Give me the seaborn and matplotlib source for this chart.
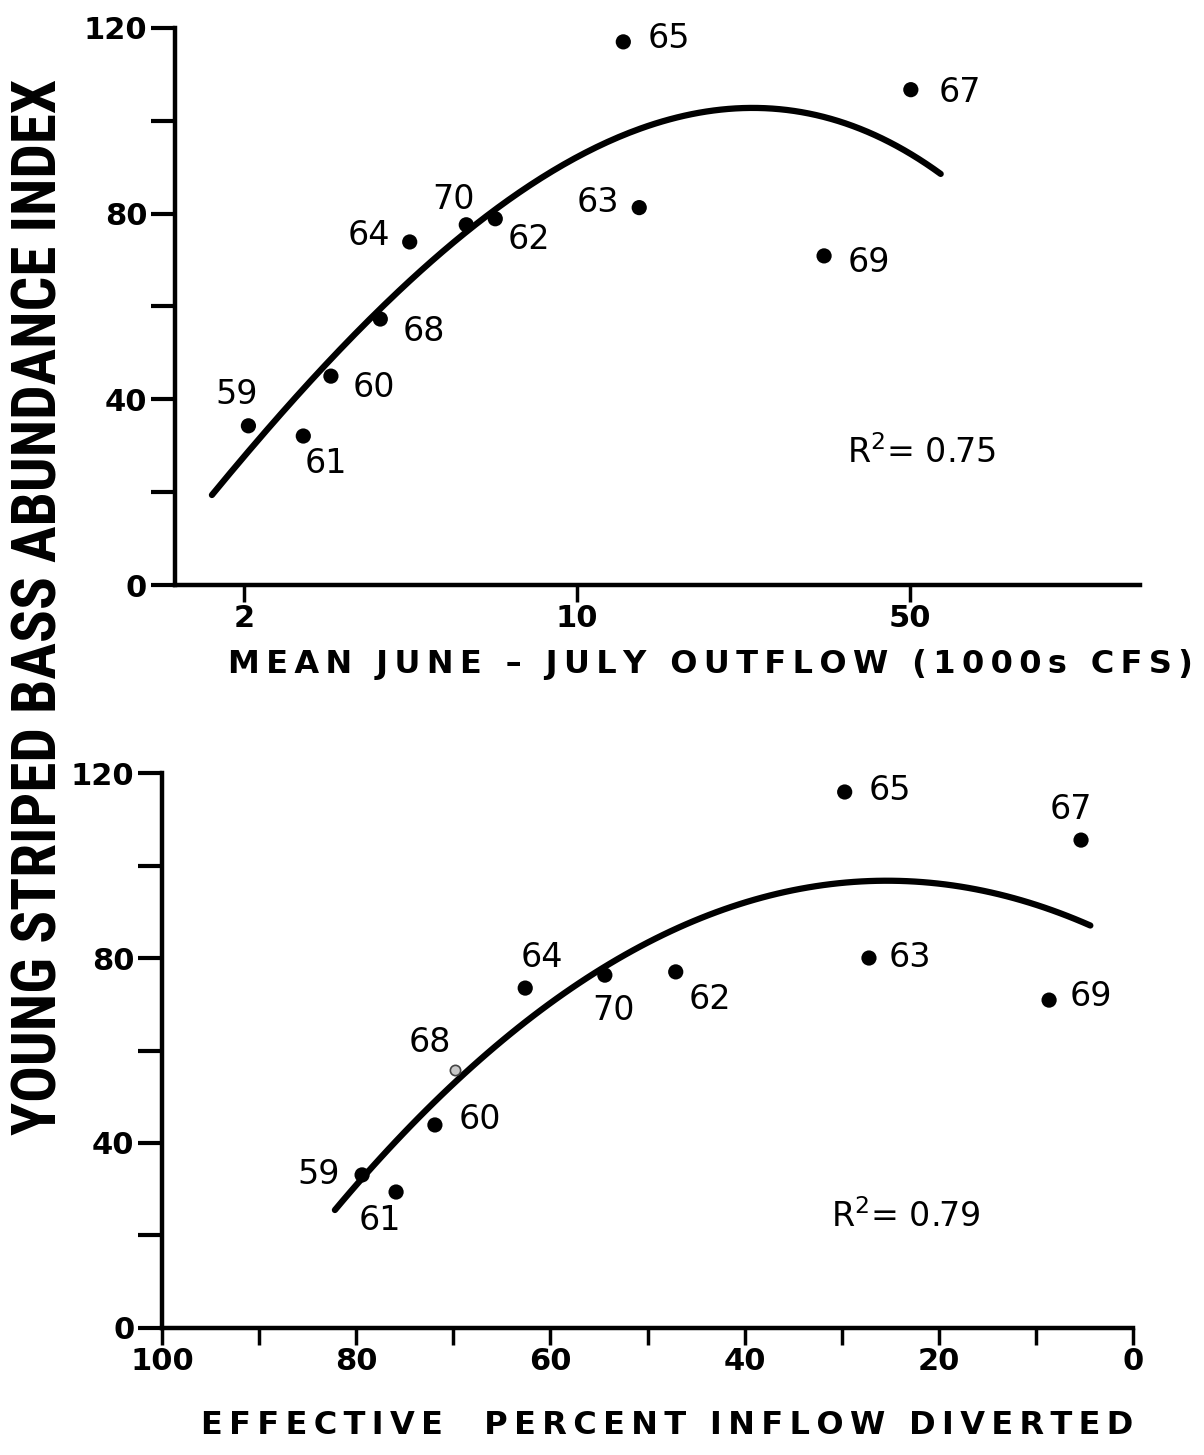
import numpy as np
import pandas as pd
import matplotlib
matplotlib.use("Agg")
import matplotlib.pyplot as plt
import seaborn as sns

# --- data ---
years = ["59", "60", "61", "62", "63", "64", "65", "67", "68", "69", "70"]

# top panel: mean June-July outflow (1000s cfs) vs abundance index
outflow = [2.04, 3.04, 2.66, 6.73, 13.5, 4.45, 12.5, 50.2, 3.86, 33.0, 5.85]
index_top = [34.3, 45.0, 32.1, 78.9, 81.3, 73.9, 117.0, 106.7, 57.3, 70.9, 77.6]

# bottom panel: effective percent inflow diverted vs abundance index
diverted = [79.4, 71.9, 75.9, 47.1, 27.2, 62.6, 29.7, 5.36, 69.8, 8.65, 54.4]
index_bot = [33.1, 43.9, 29.4, 77.0, 80.0, 73.5, 115.9, 105.5, 55.8, 70.9, 76.3]

# fitted curves, points
curve_top_x = [1.71, 2.15, 3.01, 4.22, 5.9, 8.28, 12.4, 18.3, 24.4, 34.1, 45.6, 58.0]
curve_top_y = [20.5, 31.3, 46.3, 62.5, 76.9, 89.4, 97.6, 101.0, 101.6, 100.0, 95.5, 89.0]
curve_bot_x = [82.2, 75.5, 67.3, 59.0, 50.8, 42.5, 34.3, 26.1, 17.8, 9.6, 4.4]
curve_bot_y = [26.6, 40.6, 57.9, 70.9, 81.7, 90.4, 95.8, 97.3, 95.8, 91.5, 86.1]

r2_top = "0.75"
r2_bot = "0.79"

# label offsets in pixels (dx, dy)
off_top = {"59": (-12, 31), "60": (43, -11), "61": (23, -27), "62": (34, -21),
           "63": (-41, 5), "64": (-41, 6), "65": (46, 3), "67": (49, -3),
           "68": (44, -12), "69": (45, -7), "70": (-13, 25)}
off_bot = {"59": (-43, 0), "60": (45, 5), "61": (-16, -28), "62": (34, -28),
           "63": (41, 1), "64": (17, 31), "65": (45, 2), "67": (-10, 31),
           "68": (-25, 27), "69": (42, 4), "70": (9, -35)}

sns.set_theme(style="white")
plt.rcParams["font.family"] = ["DejaVu Sans"]
plt.rcParams["mathtext.fontset"] = "dejavusans"
plt.rcParams["text.color"] = "black"
plt.rcParams["xtick.color"] = "black"
plt.rcParams["ytick.color"] = "black"


def spaced(s):
    return "\u2009".join(s)


fig = plt.figure(figsize=(12.04, 14.55), dpi=100)
ax1 = fig.add_axes([0.1453, 0.5979, 0.8015, 0.3829])
ax2 = fig.add_axes([0.1346, 0.0873, 0.8065, 0.3814])

df_top = pd.DataFrame({"year": years, "x": outflow, "y": index_top})
df_bot = pd.DataFrame({"year": years, "x": diverted, "y": index_bot})

# top panel
ax1.set_xscale("log")
sns.scatterplot(data=df_top, x="x", y="y", ax=ax1, color="black", s=120,
                edgecolor="none", zorder=3)
coef = np.polyfit(np.log10(curve_top_x), curve_top_y, 3)
xs = np.geomspace(min(curve_top_x), max(curve_top_x), 200)
sns.lineplot(x=xs, y=np.polyval(coef, np.log10(xs)), ax=ax1, color="black",
             lw=4.5, solid_capstyle="round")
ax1.set_xlim(1.43, 152)
ax1.set_ylim(0, 120)
ax1.set_xticks([2, 10, 50])
ax1.set_xticklabels(["2", "10", "50"])
ax1.xaxis.set_minor_locator(matplotlib.ticker.NullLocator())
for _, r in df_top.iterrows():
    ax1.annotate(r["year"], (r["x"], r["y"]), xytext=off_top[r["year"]],
                 textcoords="offset pixels", ha="center", va="center",
                 fontsize=24, color="black")
ax1.text(0.774, 0.237, r"R$^{2}$= " + r2_top, transform=ax1.transAxes,
         ha="center", va="center", fontsize=24, color="black")

# bottom panel
sns.regplot(x=curve_bot_x, y=curve_bot_y, order=2, ci=None, scatter=False,
            truncate=True, ax=ax2, color="black", line_kws={"lw": 4.5})
main = df_bot[df_bot["year"] != "68"]
sns.scatterplot(data=main, x="x", y="y", ax=ax2, color="black", s=120,
                edgecolor="none", zorder=3)
odd = df_bot[df_bot["year"] == "68"]
ax2.scatter(odd["x"], odd["y"], s=55, facecolor="#c8c8c8", edgecolor="#444444",
            lw=1.2, zorder=3)
ax2.set_xlim(100, 0)
ax2.set_ylim(0, 120)
ax2.set_xticks(np.arange(0, 101, 10))
ax2.set_xticklabels([str(v) if v % 20 == 0 else "" for v in range(0, 101, 10)])
for _, r in df_bot.iterrows():
    ax2.annotate(r["year"], (r["x"], r["y"]), xytext=off_bot[r["year"]],
                 textcoords="offset pixels", ha="center", va="center",
                 fontsize=24, color="black")
ax2.text(0.766, 0.2, r"R$^{2}$= " + r2_bot, transform=ax2.transAxes,
         ha="center", va="center", fontsize=24, color="black")

for ax in (ax1, ax2):
    ax.set_xlabel("")
    ax.set_ylabel("")
    ax.set_yticks(np.arange(0, 121, 20))
    ax.set_yticklabels([str(v) if v % 40 == 0 else "" for v in range(0, 121, 20)])
    for s in ("top", "right"):
        ax.spines[s].set_visible(False)
    for s in ("left", "bottom"):
        ax.spines[s].set_linewidth(3.2)
        ax.spines[s].set_color("black")
    ax.tick_params(axis="y", direction="out", length=17, width=3, pad=3,
                   labelsize=22, left=True, colors="black")
    ax.tick_params(axis="x", direction="out", length=12, width=2.5, pad=2,
                   labelsize=22, bottom=True, colors="black")
    for lab in ax.get_xticklabels() + ax.get_yticklabels():
        lab.set_fontweight("bold")
    ax.patch.set_alpha(0)

fig.text(0.5897, 0.543, spaced("MEAN JUNE – JULY OUTFLOW (1000s CFS)"),
         ha="center", va="center", fontsize=23, fontweight="bold", color="black")
fig.text(0.554, 0.0206, spaced("EFFECTIVE  PERCENT INFLOW DIVERTED"),
         ha="center", va="center", fontsize=23, fontweight="bold", color="black")
fig.text(0.033, 0.583, "YOUNG STRIPED BASS ABUNDANCE INDEX", rotation=90,
         ha="center", va="center", fontsize=44, fontweight="bold", color="black",
         family=["Roboto Condensed", "Roboto", "DejaVu Sans"])

plt.savefig("out.png", dpi=100, facecolor="white")
